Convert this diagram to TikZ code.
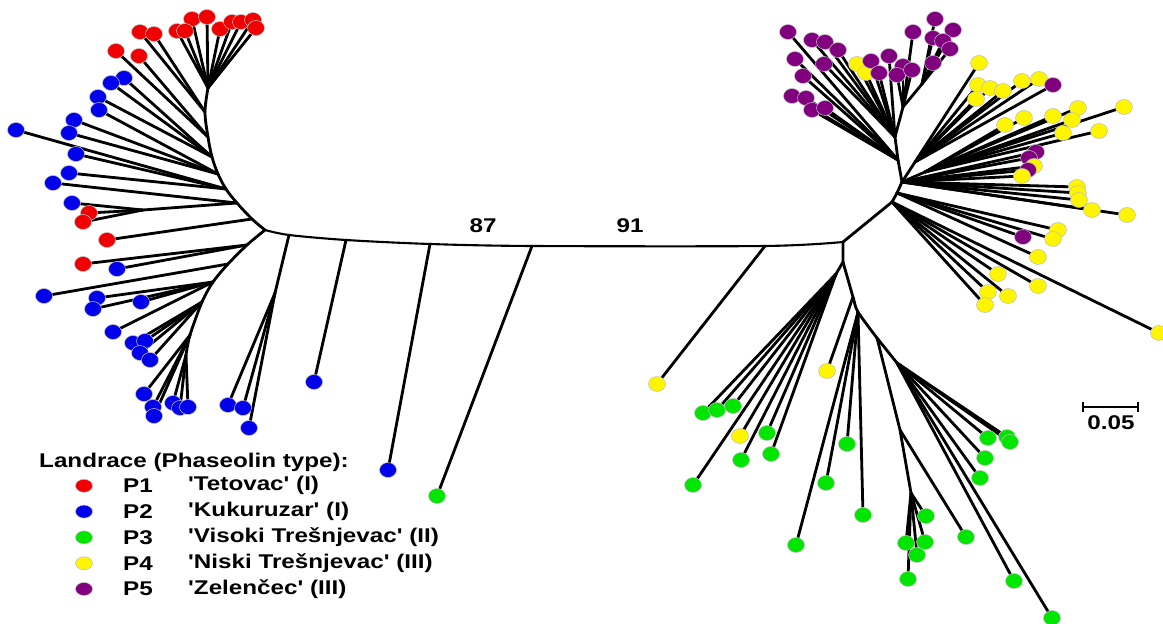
\documentclass[tikz,border=0pt]{standalone}
\usepackage{fontspec}
\newfontfamily\labfont[FakeStretch=1.22]{Liberation Sans}
\usetikzlibrary{shapes.geometric, arrows.meta}
\pgfdeclarelayer{bg}
\pgfsetlayers{bg,main}
\definecolor{tetovac}{RGB}{240,0,0}
\definecolor{kukuruzar}{RGB}{0,0,235}
\definecolor{visoki}{RGB}{0,230,0}
\definecolor{niski}{RGB}{255,245,0}
\definecolor{zelencec}{RGB}{128,0,128}
\tikzset{
  branch/.style={line width=1.6pt, line cap=round},
  leaf/.style={ellipse, fill=#1, draw=black!25, line width=0.3pt, minimum width=0.34cm, minimum height=0.30cm, inner sep=0pt},
  key/.style={leaf=#1, minimum height=0.26cm},
  lab/.style={font=\labfont\bfseries\fontsize{11.3}{13}\selectfont, anchor=west},
  num/.style={font=\labfont\bfseries\fontsize{11.3}{13}\selectfont},
}
\begin{document}
\begin{tikzpicture}[x=0.02cm, y=-0.02cm]
    \useasboundingbox (0,0) rectangle (1163,624);

    % Backbone
    \coordinate (hL) at (265,230);
    \coordinate (b1) at (289,235);
    \coordinate (b2) at (346,240);
    \coordinate (b3) at (430,244);
    \coordinate (b4) at (532,246);
    \coordinate (b5) at (765,246);
    \coordinate (hR) at (843,242);
    \draw[branch, line width=1.2pt] plot[smooth, tension=0.5] coordinates {(hL) (b1) (b2) (b3) (b4) (b5) (hR)};

    % Left clade, upper arc
    \coordinate (u1) at (252,219);
    \coordinate (u2) at (237,203);
    \coordinate (u3) at (226,189);
    \coordinate (u4) at (218,174);
    \coordinate (u5) at (212,157);
    \coordinate (u6) at (208,137);
    \coordinate (u7) at (205,112);
    \coordinate (u8) at (208,88);
    \coordinate (s1) at (143,210);
    \draw[branch] plot[smooth, tension=0.6] coordinates {(hL) (u1) (u2) (u3) (u4) (u5) (u6) (u7) (u8)};
    \draw[branch] (u2) -- (s1);

    % Left clade, lower arc
    \coordinate (l1) at (247,245);
    \coordinate (l2) at (228,264);
    \coordinate (l3) at (213,282);
    \coordinate (l4) at (202,302);
    \coordinate (l5) at (190,335);
    \coordinate (l6) at (186,355);
    \coordinate (s3) at (275,293);
    \draw[branch] plot[smooth, tension=0.5] coordinates {(hL) (l1) (l2) (l3) (l4) (l5) (l6)};
    \draw[branch] (b1) -- (s3);

    \foreach \j/\x/\y/\c [count=\i] in {
        u8/192/19/tetovac, u8/207/17/tetovac, u8/220/29/tetovac, u8/232/22/tetovac,
        u8/241/22/tetovac, u8/253/20/tetovac, u8/256/28/tetovac, u8/177/31/tetovac,
        u8/185/31/tetovac, u7/140/32/tetovac, u7/154/34/tetovac, u6/116/51/tetovac,
        u6/139/56/tetovac, u5/124/78/kukuruzar, u5/111/83/kukuruzar, u5/98/97/kukuruzar,
        u4/99/110/kukuruzar, u4/74/120/kukuruzar, u4/69/133/kukuruzar, u3/16/130/kukuruzar,
        u3/76/154/kukuruzar, u3/69/173/kukuruzar, u2/53/183/kukuruzar, s1/72/203/kukuruzar,
        s1/89/213/tetovac, s1/83/222/tetovac, u1/107/240/tetovac,
        l1/83/264/tetovac, l1/117/269/kukuruzar, l2/44/296/kukuruzar, l3/97/298/kukuruzar,
        l3/93/309/kukuruzar, l3/141/302/kukuruzar, l3/113/332/kukuruzar, l4/133/343/kukuruzar,
        l4/145/341/kukuruzar, l4/140/353/kukuruzar, l4/150/360/kukuruzar, l5/144/394/kukuruzar,
        l5/153/407/kukuruzar, l5/154/416/kukuruzar, l6/173/403/kukuruzar, l6/180/408/kukuruzar,
        l6/188/407/kukuruzar, s3/228/405/kukuruzar, s3/243/408/kukuruzar, s3/249/428/kukuruzar,
        b2/314/382/kukuruzar, b3/388/470/kukuruzar, b4/437/496/visoki, b5/657/384/niski}{
      \node[leaf=\c] (L\i) at (\x,\y) {};
      \begin{pgfonlayer}{bg}\draw[branch] (\j) -- (L\i);\end{pgfonlayer}
    }

    % Right clade, upper part
    \coordinate (r1) at (892,202);
    \coordinate (r1a) at (897,193);
    \coordinate (r2) at (902,182);
    \coordinate (r9) at (898,160);
    \coordinate (r3) at (895,137);
    \coordinate (r6) at (903,107);
    \coordinate (r7) at (922,84);
    \coordinate (r4) at (925,172);
    \coordinate (r5) at (915,162);
    \draw[branch] (hR) -- (r1) -- (r1a) -- (r2) -- (r9) -- (r3) -- (r6) -- (r7);
    \draw[branch] (r2) -- (r4);
    \draw[branch] (r2) -- (r5);

    \foreach \j/\x/\y/\c [count=\i] in {
        r9/788/32/zelencec, r9/795/59/zelencec, r9/803/76/zelencec, r9/792/96/zelencec,
        r9/806/98/zelencec, r9/812/110/zelencec, r9/825/108/zelencec,
        r3/812/40/zelencec, r3/825/42/zelencec, r3/838/50/zelencec, r3/824/64/zelencec,
        r3/857/64/niski, r3/866/73/niski, r3/871/61/zelencec, r3/879/73/zelencec,
        r3/889/56/zelencec, r6/903/66/zelencec, r6/897/75/zelencec, r6/912/70/zelencec,
        r6/913/32/zelencec, r7/935/19/zelencec, r7/953/30/zelencec, r7/933/38/zelencec,
        r7/943/41/zelencec, r7/950/49/zelencec, r7/933/63/zelencec,
        r5/979/63/niski, r5/978/85/niski, r5/990/88/niski, r5/1003/91/niski,
        r5/976/99/niski, r5/1022/81/niski, r5/1039/79/niski, r5/1053/85/zelencec,
        r4/1005/125/niski, r4/1024/118/niski, r4/1053/116/niski, r4/1078/108/niski,
        r4/1072/120/niski, r4/1063/133/niski, r4/1099/131/niski, r4/1124/107/niski,
        r2/1036/152/zelencec, r2/1029/158/zelencec, r2/1034/166/niski, r2/1028/170/zelencec,
        r2/1022/176/niski, r2/1077/187/niski, r2/1078/193/niski, r2/1079/200/niski,
        r2/1092/210/niski, r2/1127/215/niski,
        r1a/1023/237/zelencec, r1a/1038/257/niski, r1a/1058/230/niski, r1a/1053/239/niski,
        r1/998/274/niski, r1/988/292/niski, r1/985/305/niski, r1/1008/296/niski,
        r1/1038/286/niski, r1/1159/333/niski}{
      \node[leaf=\c] (R\i) at (\x,\y) {};
      \begin{pgfonlayer}{bg}\draw[branch] (\j) -- (R\i);\end{pgfonlayer}
    }

    % Right clade, lower part
    \coordinate (g0) at (843,262);
    \coordinate (g1) at (836,274);
    \coordinate (g2) at (853,297);
    \coordinate (g3) at (858,312);
    \coordinate (g4) at (877,338);
    \coordinate (g5) at (900,430);
    \coordinate (g6) at (911,493);
    \coordinate (g7) at (897,363);
    \draw[branch] (hR) -- (g0) -- (g1);
    \draw[branch] plot[smooth, tension=0.5] coordinates {(g0) (g2) (g3) (g4)};
    \draw[branch] (g4) -- (g5) -- (g6);
    \draw[branch] (g4) -- (g7);

    \foreach \j/\x/\y/\c [count=\i] in {
        g1/703/413/visoki, g1/717/410/visoki, g1/733/406/visoki, g1/740/436/niski,
        g1/767/433/visoki, g1/741/460/visoki, g1/771/454/visoki, g1/693/485/visoki,
        g2/827/371/niski, g3/847/444/visoki, g3/863/515/visoki, g3/826/483/visoki,
        g3/796/545/visoki, g5/966/537/visoki, g6/926/516/visoki, g6/906/543/visoki,
        g6/925/542/visoki, g6/917/555/visoki, g6/908/579/visoki,
        g7/988/438/visoki, g7/1007/437/visoki, g7/1010/442/visoki, g7/985/458/visoki,
        g7/980/478/visoki, g7/1014/581/visoki, g7/1052/618/visoki}{
      \node[leaf=\c] (G\i) at (\x,\y) {};
      \begin{pgfonlayer}{bg}\draw[branch] (\j) -- (G\i);\end{pgfonlayer}
    }

    % Support values
    \node[num] (boot87) at (483,226) {87};
    \node[num] (boot91) at (630,226) {91};

    % Scale bar
    \coordinate (sb1) at (1082,407);
    \coordinate (sb2) at (1139,407);
    \draw[line width=1.3pt, {Bar[width=0.2cm]}-{Bar[width=0.2cm]}] (sb1) -- (sb2);
    \node[num] (sbtxt) at (1111,423) {0.05};

    % Legend
    \node[lab] (title) at (33,462) {Landrace (Phaseolin type):};
    \foreach \c/\p/\t [count=\k] in {
        tetovac/P1/'Tetovac' (I),
        kukuruzar/P2/'Kukuruzar' (I),
        visoki/P3/'Visoki Trešnjevac' (II),
        niski/P4/'Niski Trešnjevac' (III),
        zelencec/P5/'Zelenčec' (III)}{
      \node[key=\c] (key\k) at (84,460+25.8*\k) {};
      \node[lab] (code\k) at (117,460+25.8*\k) {\p};
      \node[lab] (name\k) at (182,460+25.8*\k) {\t};
    }
\end{tikzpicture}
\end{document}
